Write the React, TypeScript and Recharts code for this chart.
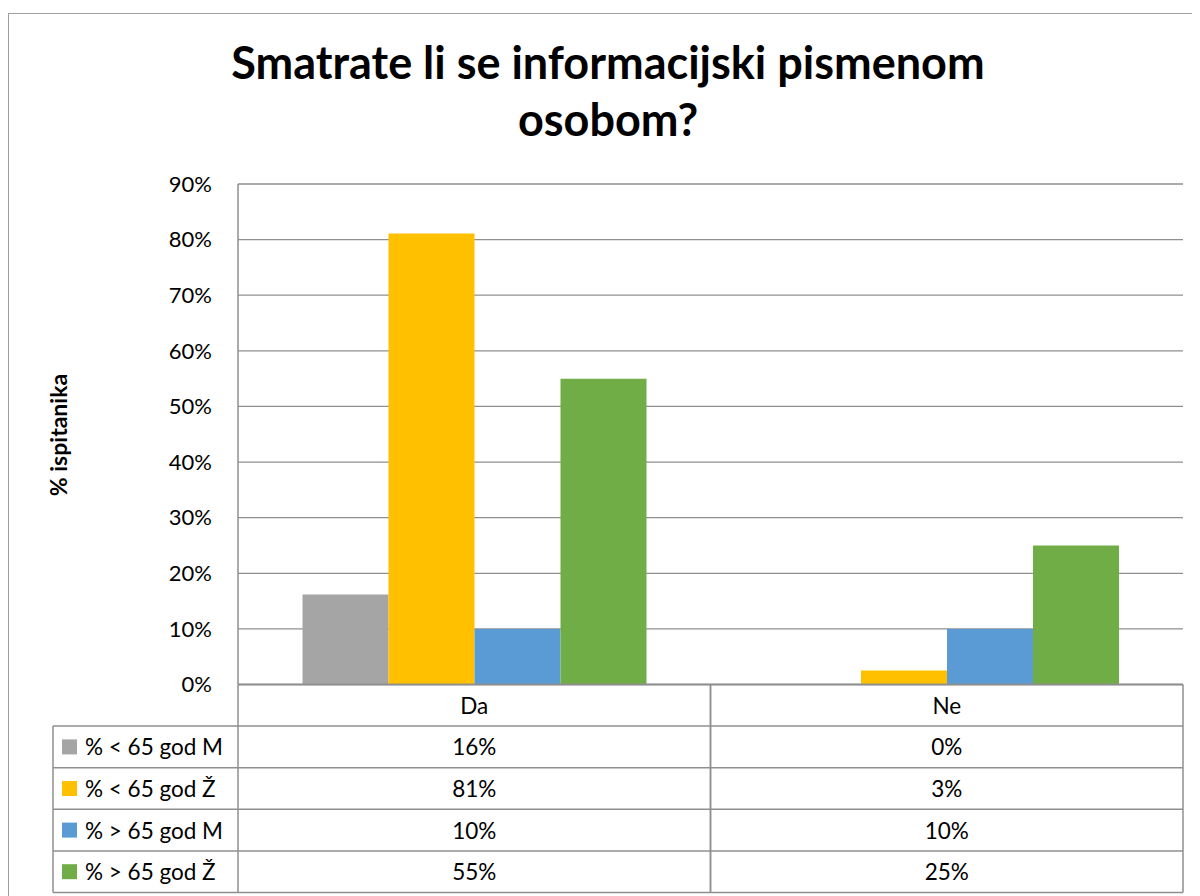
import React from "react";
import { BarChart, Bar, XAxis, YAxis, CartesianGrid, Label } from "recharts";

const categories = ["Da", "Ne"];
const seriesNames = ["% < 65 god M", "% < 65 god Ž", "% > 65 god M", "% > 65 god Ž"];
const seriesColors = ["#A5A5A5", "#FFC000", "#5B9BD5", "#70AD47"];
const under65M = [16.2, 0];
const under65Z = [81.1, 2.5];
const over65M = [10, 10];
const over65Z = [55, 25];
const yTicks = [0, 10, 20, 30, 40, 50, 60, 70, 80, 90];

const seriesValues = [under65M, under65Z, over65M, over65Z];
const seriesKeys = ["s0", "s1", "s2", "s3"];

const data = categories.map((name, i) => ({
  name,
  s0: under65M[i],
  s1: under65Z[i],
  s2: over65M[i],
  s3: over65Z[i],
}));

const FONT = "Lato, 'Open Sans', sans-serif";
const LINE = "#8f8f8f";
const TABLE_FS = 22.5;

const CHART_W = 1192;
const CHART_H = 883;
const MARGIN = { top: 171, right: 17, left: 0, bottom: 0 };
const Y_AXIS_W = 230;
const X_AXIS_H = CHART_H - 671.5;
const plotW = CHART_W - MARGIN.left - MARGIN.right - Y_AXIS_W;
const colW = plotW / categories.length;
const rowH = 41.6;
const legendW = 185;

function TableTick(props: any) {
  const { x, y, payload } = props;
  const i = payload.index;
  const left = x - colW / 2;
  const right = x + colW / 2;
  const bottom = y + rowH * 5;
  const legLeft = left - legendW;

  return (
    <g fontFamily={FONT}>
      {[0, 1, 2, 3, 4, 5].map((k) => (
        <line key={"h" + k} x1={left} x2={right} y1={y + k * rowH} y2={y + k * rowH} stroke={LINE} strokeWidth={1.5} />
      ))}
      <line x1={left} x2={left} y1={y} y2={bottom} stroke={LINE} strokeWidth={1.5} />
      <line x1={right} x2={right} y1={y} y2={bottom} stroke={LINE} strokeWidth={1.5} />
      <text x={x} y={y + rowH / 2} textAnchor="middle" dominantBaseline="central" fontSize={TABLE_FS} fill="#000">
        {payload.value}
      </text>
      {seriesValues.map((vals, s) => (
        <text key={"v" + s} x={x} y={y + rowH * (s + 1.5)} textAnchor="middle" dominantBaseline="central" fontSize={TABLE_FS} fill="#000">
          {Math.round(vals[i])}%
        </text>
      ))}
      {i === 0 && (
        <g>
          {[1, 2, 3, 4, 5].map((k) => (
            <line key={"lh" + k} x1={legLeft} x2={left} y1={y + k * rowH} y2={y + k * rowH} stroke={LINE} strokeWidth={1.5} />
          ))}
          <line x1={legLeft} x2={legLeft} y1={y + rowH} y2={bottom} stroke={LINE} strokeWidth={1.5} />
          {seriesNames.map((n, s) => (
            <g key={"l" + s}>
              <rect x={legLeft + 9} y={y + rowH * (s + 1.5) - 7.5} width={15} height={15} fill={seriesColors[s]} />
              <text x={legLeft + 32} y={y + rowH * (s + 1.5)} dominantBaseline="central" fontSize={TABLE_FS} fill="#000">
                {n}
              </text>
            </g>
          ))}
        </g>
      )}
    </g>
  );
}

export default function App() {
  return (
    <div style={{ position: "relative", width: 1192, height: 888, overflow: "hidden", fontFamily: FONT }}>
      <div
        style={{
          position: "absolute",
          left: 0,
          top: 5,
          width: 1300,
          height: 1000,
          borderLeft: "1.5px solid #a0a0a0",
          borderTop: "1.5px solid #a0a0a0",
        }}
      />
      <div
        style={{
          position: "absolute",
          left: 0,
          top: 26,
          width: 1200,
          textAlign: "center",
          fontSize: 45,
          fontWeight: 700,
          lineHeight: "57px",
          color: "#000",
        }}
      >
        Smatrate li se informacijski pismenom
        <br />
        osobom?
      </div>
      <div style={{ position: "absolute", left: 0, top: 5 }}>
        <BarChart width={CHART_W} height={CHART_H} data={data} margin={MARGIN} barGap={0} barCategoryGap={64.5}>
          <CartesianGrid vertical={false} stroke={LINE} strokeWidth={1.3} />
          <XAxis
            dataKey="name"
            height={X_AXIS_H}
            axisLine={{ stroke: LINE, strokeWidth: 1.5 }}
            tickLine={false}
            tickSize={0}
            tickMargin={0}
            interval={0}
            tick={<TableTick />}
          />
          <YAxis
            width={Y_AXIS_W}
            domain={[0, 90]}
            ticks={yTicks}
            tickFormatter={(v: number) => `${v}%`}
            axisLine={{ stroke: LINE, strokeWidth: 1.5 }}
            tickLine={false}
            tickSize={0}
            tickMargin={26}
            tick={{ fill: "#000", fontSize: 22, fontFamily: FONT }}
          >
            <Label
              content={() => (
                <text
                  x={50}
                  y={422}
                  transform="rotate(-90 50 422)"
                  textAnchor="middle"
                  dominantBaseline="central"
                  fontSize={23}
                  fontWeight={700}
                  fontFamily={FONT}
                  fill="#000"
                >
                  % ispitanika
                </text>
              )}
            />
          </YAxis>
          {seriesKeys.map((k, s) => (
            <Bar key={k} dataKey={k} name={seriesNames[s]} fill={seriesColors[s]} isAnimationActive={false} />
          ))}
        </BarChart>
      </div>
    </div>
  );
}
